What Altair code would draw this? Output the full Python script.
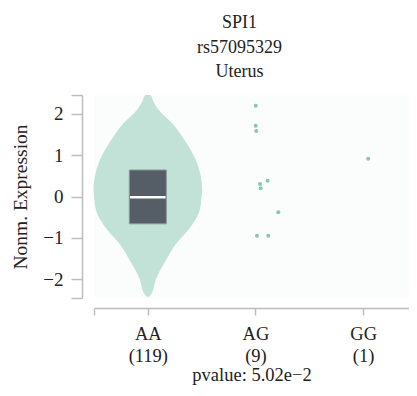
import altair as alt
import pandas as pd

# ---- data ----
genotypes = ["AA", "AG", "GG"]
counts = [119, 9, 1]

# violin outline for AA: expression value and relative width (max = 1)
violin_values = [2.45, 2.43, 2.33, 2.09, 1.78, 1.37, 0.96, 0.57, 0.16, 0.0,
                 -0.37, -0.75, -1.16, -1.57, -1.96, -2.37, -2.42]
violin_density = [0.04, 0.06, 0.09, 0.20, 0.44, 0.67, 0.855, 0.96, 1.0, 0.99,
                  0.945, 0.78, 0.51, 0.32, 0.16, 0.055, 0.02]

# AA box (quartiles and median)
aa_q1 = -0.66
aa_median = -0.02
aa_q3 = 0.64

# individual points (AG and GG) and their horizontal jitter (band units)
ag_values = [2.19, 1.71, 1.58, 0.30, 0.20, 0.38, -0.38, -0.95, -0.95]
ag_jitter = [0.002, 0.002, 0.007, 0.042, 0.048, 0.113, 0.212, 0.014, 0.119]
gg_values = [0.91]
gg_jitter = [0.047]

title_lines = ["SPI1", "rs57095329", "Uterus"]
pvalue_text = "pvalue: 5.02e\u22122"
y_title = "Nonm. Expression"

FONT = "Liberation Serif"
TXT = "#222222"
AX = "#bdbdbd"

# ---- tables ----
violin_df = pd.DataFrame({"y": violin_values, "w": violin_density, "pos": 0})
box_df = pd.DataFrame({"pos": [0], "q1": [aa_q1], "q3": [aa_q3], "y": [aa_median]})
pts_df = pd.DataFrame({
    "pos": [1] * len(ag_values) + [2] * len(gg_values),
    "jit": ag_jitter + gg_jitter,
    "y": ag_values + gg_values,
})

label_expr = " : ".join(
    f"datum.value == {i} ? ['{g}', '({c})']" for i, (g, c) in enumerate(zip(genotypes, counts))
) + " : ''"

xaxis = alt.Axis(
    values=[-0.5, 0, 1, 2], labelExpr=label_expr, offset=10, tickSize=7,
    labelLineHeight=22, labelPadding=9, labelAngle=0, labelFontSize=18.5,
    titlePadding=1, titleFontSize=18.5,
)
yaxis = alt.Axis(
    values=[-2.45, -2, -1, 0, 1, 2, 2.45],
    labelExpr="abs(datum.value) > 2.2 ? '' : format(datum.value, 'd')",
    offset=12, tickSize=11, labelPadding=8, titlePadding=12,
)

# the plot is cut at the right edge of the page, as in the reference
xscale = alt.Scale(domain=[-0.5, 2.426], nice=False, zero=False)
yscale = alt.Scale(domain=[-2.45, 2.45], nice=False, zero=False)

def X(field):
    return alt.X(field, type="quantitative", scale=xscale, axis=xaxis, title=pvalue_text)

def Y(field):
    return alt.Y(field, type="quantitative", scale=yscale, axis=yaxis, title=y_title)

violin = alt.Chart(violin_df).transform_calculate(
    x="datum.pos - datum.w * 0.505", xe="datum.pos + datum.w * 0.505"
).mark_area(orient="horizontal", interpolate="monotone", color="#c3e2d7").encode(
    y=Y("y"), x=X("x"), x2="xe:Q"
)

box = alt.Chart(box_df).transform_calculate(
    x="datum.pos - 0.172", xe="datum.pos + 0.172"
).mark_rect(fill="#555d66", stroke="#8d969c", strokeWidth=1).encode(
    x=X("x"), x2="xe:Q", y=Y("q1"), y2="q3:Q"
)

median = alt.Chart(box_df).transform_calculate(
    x="datum.pos - 0.165", xe="datum.pos + 0.165"
).mark_rule(color="white", strokeWidth=2.5).encode(
    x=X("x"), x2="xe:Q", y=Y("y")
)

points = alt.Chart(pts_df).transform_calculate(
    x="datum.pos + datum.jit"
).mark_circle(size=16, color="#88c8b2", opacity=1).encode(
    x=X("x"), y=Y("y")
)

chart = alt.layer(violin, box, median, points).properties(
    width=315, height=203,
    title=alt.TitleParams(title_lines, lineHeight=24.5, anchor="middle", dx=-12, offset=5),
    autosize=alt.AutoSizeParams(type="none"),
    padding={"left": 86, "top": 87, "right": 0, "bottom": 90},
).configure(
    font=FONT
).configure_view(
    fill="#fbfcfc", stroke="transparent"
).configure_title(
    font=FONT, fontSize=18, fontWeight="normal", color=TXT
).configure_axis(
    tickColor=AX, domainColor=AX, tickWidth=1.5, domainWidth=1.5, grid=False,
    labelFont=FONT, labelFontSize=19, labelColor=TXT, labelFlush=False,
    labelOverlap=False, titleFont=FONT, titleFontSize=19.5,
    titleFontWeight="normal", titleColor=TXT,
)

chart.save("out.html", embed_options={"renderer": "svg", "actions": False})
